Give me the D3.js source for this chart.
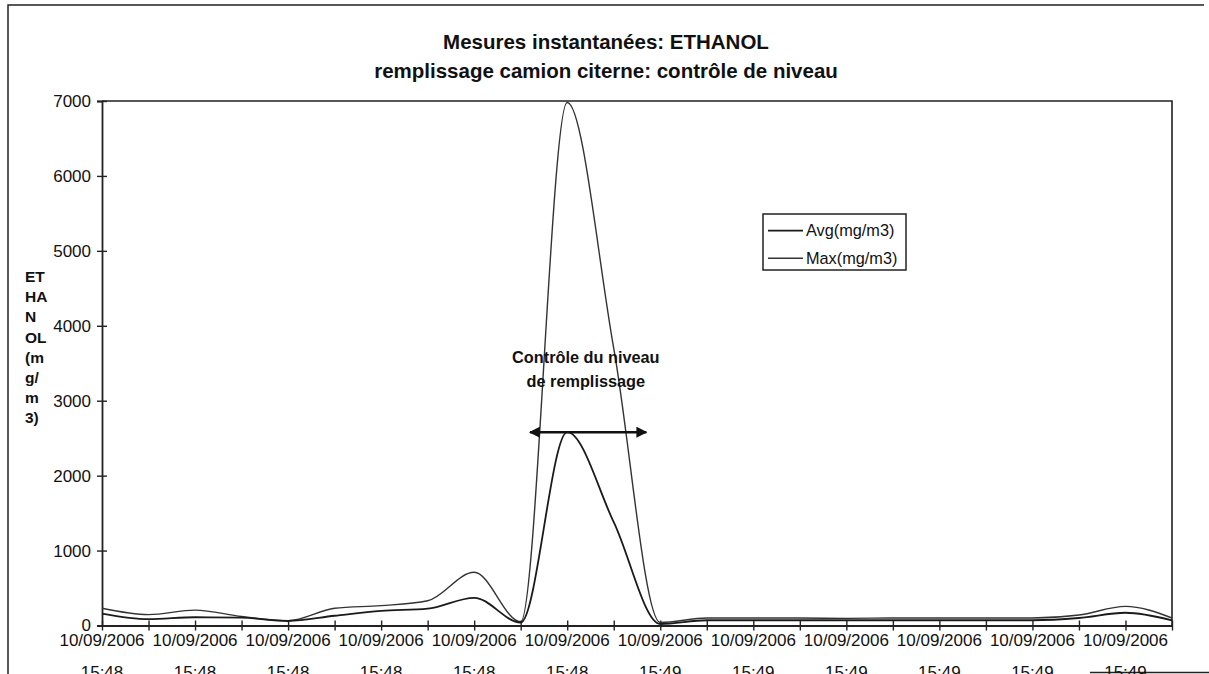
<!DOCTYPE html>
<html>
<head>
<meta charset="utf-8">
<script src="https://cdn.jsdelivr.net/npm/d3@7/dist/d3.min.js"></script>
<style>
  html, body { margin: 0; padding: 0; background: #fff; }
  svg { display: block; font-family: "Liberation Sans", Arial, sans-serif; }
</style>
</head>
<body>
<svg id="chart" width="1209" height="674"></svg>
<script>
// Sampling instants (one reading per category)
const categories = [
  "10/09/2006 15:48 #0", "10/09/2006 15:48 #1", "10/09/2006 15:48 #2", "10/09/2006 15:48 #3",
  "10/09/2006 15:48 #4", "10/09/2006 15:48 #5", "10/09/2006 15:48 #6", "10/09/2006 15:48 #7",
  "10/09/2006 15:48 #8", "10/09/2006 15:48 #9", "10/09/2006 15:48 #10", "10/09/2006 15:48 #11",
  "10/09/2006 15:49 #12", "10/09/2006 15:49 #13", "10/09/2006 15:49 #14", "10/09/2006 15:49 #15",
  "10/09/2006 15:49 #16", "10/09/2006 15:49 #17", "10/09/2006 15:49 #18", "10/09/2006 15:49 #19",
  "10/09/2006 15:49 #20", "10/09/2006 15:49 #21", "10/09/2006 15:49 #22", "10/09/2006 15:49 #23"
];

// Ethanol concentration, mg/m3
const avgValues = [160, 85, 110, 105, 60, 130, 195, 225, 370, 40, 2580, 1380,
                   20, 70, 70, 70, 70, 70, 70, 70, 70, 100, 170, 70];
const maxValues = [230, 145, 205, 120, 65, 230, 265, 330, 710, 50, 6980, 3700,
                   40, 100, 100, 100, 95, 100, 100, 100, 100, 140, 255, 100];

const seriesNames = ["Avg(mg/m3)", "Max(mg/m3)"];

// Axis labels
const yTicks = [0, 1000, 2000, 3000, 4000, 5000, 6000, 7000];
const dateLabels = ["10/09/2006", "10/09/2006", "10/09/2006", "10/09/2006", "10/09/2006", "10/09/2006",
                    "10/09/2006", "10/09/2006", "10/09/2006", "10/09/2006", "10/09/2006", "10/09/2006"];
const timeLabels = ["15:48", "15:48", "15:48", "15:48", "15:48", "15:48",
                    "15:49", "15:49", "15:49", "15:49", "15:49", "15:49"];
const yTitleLines = ["ET", "HA", "N", "OL", "(m", "g/", "m", "3)"];
const titleLines = ["Mesures instantanées: ETHANOL", "remplissage camion citerne: contrôle de niveau"];
const noteLines = ["Contrôle du niveau", "de remplissage"];

const svg = d3.select("#chart");
const plot = { left: 102, right: 1172, top: 101, bottom: 625.5 };

const x = d3.scalePoint().domain(categories).range([plot.left, plot.right]);
const y = d3.scaleLinear().domain([0, 7000]).range([plot.bottom, plot.top]);
const xi = i => plot.left + i * x.step();

// Page frame
svg.append("path")
  .attr("d", "M8,674 L8,5 L1204,5")
  .attr("fill", "none").attr("stroke", "#222").attr("stroke-width", 1.5);
svg.append("line").attr("x1", 1090).attr("x2", 1209).attr("y1", 672.5).attr("y2", 672.5)
  .attr("stroke", "#222").attr("stroke-width", 1.5);

// Title
svg.append("g").selectAll("text").data(titleLines).join("text")
  .attr("x", 606).attr("y", (d, i) => 49 + i * 28.5)
  .attr("text-anchor", "middle").attr("font-weight", "bold").attr("font-size", 20.5)
  .attr("fill", "#111").text(d => d);

// Plot border (top and right)
svg.append("path")
  .attr("d", `M${plot.left},${plot.top} L${plot.right},${plot.top} L${plot.right},${plot.bottom}`)
  .attr("fill", "none").attr("stroke", "#222").attr("stroke-width", 1.6);

// Y axis
const yAxis = svg.append("g").attr("transform", `translate(${plot.left},0)`)
  .call(d3.axisLeft(y).tickValues(yTicks).tickFormat(d3.format("d")).tickSize(5).tickPadding(6));
yAxis.select(".domain").attr("stroke", "#222").attr("stroke-width", 1.8);
yAxis.selectAll(".tick line").attr("x2", 5).attr("x1", -5).attr("stroke", "#222").attr("stroke-width", 1.4);
yAxis.selectAll(".tick text").attr("font-size", 17).attr("fill", "#111")
  .attr("font-family", "'Liberation Sans', Arial, sans-serif");

// X axis
const xAxis = svg.append("g").attr("transform", `translate(0,${plot.bottom})`)
  .call(d3.axisBottom(x).tickValues(categories).tickFormat("").tickSize(5).tickSizeOuter(0));
xAxis.select(".domain").attr("stroke", "#222").attr("stroke-width", 1.8);
xAxis.selectAll(".tick line").attr("y1", -5).attr("y2", 5).attr("stroke", "#222").attr("stroke-width", 1.4);

const xLabels = svg.append("g").attr("font-size", 17).attr("fill", "#111").attr("text-anchor", "middle");
dateLabels.forEach((d, j) => {
  const cx = x(categories[j * 2]);
  xLabels.append("text").attr("x", cx).attr("y", 646).text(d);
  xLabels.append("text").attr("x", cx).attr("y", 678).text(timeLabels[j]);
});

// Y axis title, stacked fragments
svg.append("g").selectAll("text").data(yTitleLines).join("text")
  .attr("x", 25).attr("y", (d, i) => 282 + i * 20.2)
  .attr("font-weight", "bold").attr("font-size", 15.5).attr("fill", "#111").text(d => d);

// Series lines (smoothed)
const line = d3.line()
  .x((d, i) => x(categories[i]))
  .y(d => y(d))
  .curve(d3.curveMonotoneX);

svg.append("path").datum(maxValues)
  .attr("d", line).attr("fill", "none")
  .attr("stroke", "#333").attr("stroke-width", 1.4);
svg.append("path").datum(avgValues)
  .attr("d", line).attr("fill", "none")
  .attr("stroke", "#1a1a1a").attr("stroke-width", 1.8);

// Annotation: filling-level control window
const note = svg.append("g").attr("font-weight", "bold").attr("font-size", 16.3)
  .attr("fill", "#111").attr("text-anchor", "middle");
noteLines.forEach((t, i) => note.append("text").attr("x", xi(10.4)).attr("y", 363 + i * 24).text(t));

svg.append("defs").append("marker")
  .attr("id", "arrowhead").attr("viewBox", "0 0 10 10").attr("refX", 9).attr("refY", 5)
  .attr("markerWidth", 13).attr("markerHeight", 11).attr("markerUnits", "userSpaceOnUse")
  .attr("orient", "auto-start-reverse")
  .append("path").attr("d", "M0,0 L10,5 L0,10 Z").attr("fill", "#111");

svg.append("line")
  .attr("x1", xi(9.2)).attr("x2", xi(11.7))
  .attr("y1", y(2580)).attr("y2", y(2580))
  .attr("stroke", "#111").attr("stroke-width", 2.5)
  .attr("marker-start", "url(#arrowhead)").attr("marker-end", "url(#arrowhead)");

// Legend
const legend = svg.append("g");
legend.append("rect").attr("x", 763).attr("y", 214).attr("width", 143).attr("height", 56)
  .attr("fill", "#fff").attr("stroke", "#222").attr("stroke-width", 1.5);
const legendStyles = [{ stroke: "#1a1a1a", width: 1.8 }, { stroke: "#333", width: 1.4 }];
seriesNames.forEach((name, i) => {
  const ly = 230.7 + i * 27.6;
  legend.append("line").attr("x1", 768).attr("x2", 803).attr("y1", ly).attr("y2", ly)
    .attr("stroke", legendStyles[i].stroke).attr("stroke-width", legendStyles[i].width);
  legend.append("text").attr("x", 806).attr("y", ly + 5.5).attr("font-size", 16.3)
    .attr("fill", "#111").text(name);
});
</script>
</body>
</html>
